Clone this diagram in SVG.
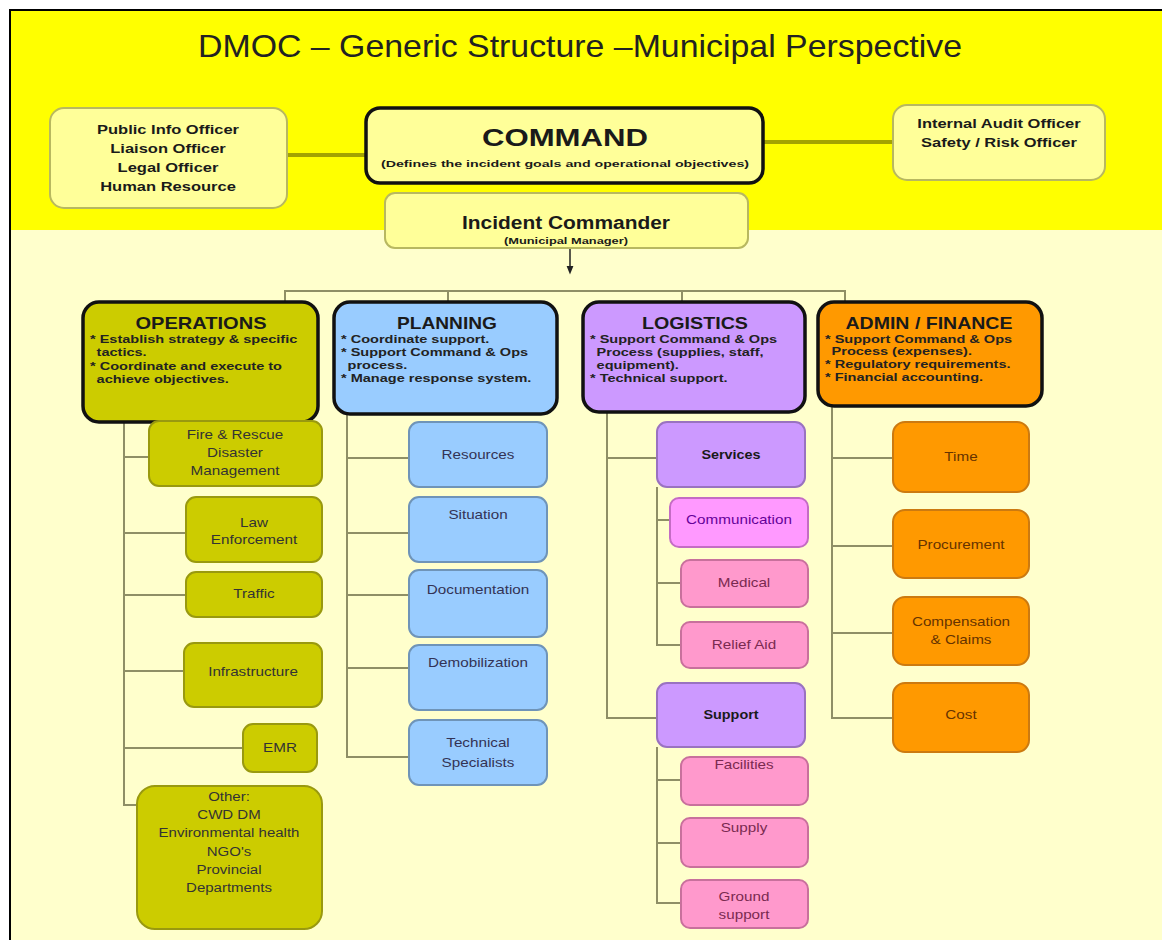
<svg xmlns="http://www.w3.org/2000/svg" width="1162" height="940" viewBox="0 0 1162 940">
  <style>
    .t { font-family: "Liberation Sans", Arial, sans-serif; text-anchor: middle; }
    .head { font-weight: bold; fill: #1a1a1a; }
    .bul { font-family: "Liberation Sans", Arial, sans-serif; font-weight: bold; font-size: 11px; fill: #222; }
    .cl { fill: none; stroke: #8f8f66; stroke-width: 2; }
    .top { fill: none; stroke: #a3a300; stroke-width: 4; }
    .main { stroke: #111; stroke-width: 3.5; }
    .ops { fill: #cccc00; }
    .opsc { fill: #cccc00; stroke: #99990f; stroke-width: 2; }
    .pln { fill: #99ccff; }
    .plnc { fill: #99ccff; stroke: #6f94b8; stroke-width: 2; }
    .log { fill: #cc99ff; }
    .logc { fill: #cc99ff; stroke: #9a72c0; stroke-width: 2; }
    .com { fill: #ff99ff; stroke: #c46cc4; stroke-width: 2; }
    .pnk { fill: #ff99cc; stroke: #c8709c; stroke-width: 2; }
    .adm { fill: #ff9900; }
    .admc { fill: #ff9900; stroke: #cc7a10; stroke-width: 2; }
    .lt { fill: #ffff99; stroke: #b8b860; stroke-width: 2; }
    .ct { font-size: 12px; }
  </style>
  <defs>
    <marker id="arrow" viewBox="0 0 10 10" refX="5" refY="5" markerWidth="6" markerHeight="6" orient="auto">
      <path d="M0,1 L10,5 L0,9 Z" fill="#222"/>
    </marker>
  </defs>

  <!-- page frame and backgrounds -->
  <rect x="0" y="0" width="1162" height="940" fill="#ffffff"/>
  <rect x="10" y="10" width="1152" height="930" fill="#ffffcc"/>
  <rect x="10" y="10" width="1152" height="220" fill="#ffff00"/>
  <path d="M10,940 L10,10 L1162,10" fill="none" stroke="#000" stroke-width="2"/>

  <text id="title" class="t" x="580" y="57" font-family="'Open Sans', 'Liberation Sans', sans-serif" font-size="32" fill="#222" textLength="764" lengthAdjust="spacingAndGlyphs">DMOC – Generic Structure –Municipal Perspective</text>

  <!-- connectors -->
  <g id="connectors">
    <line class="top" x1="287" y1="155" x2="366" y2="155"/>
    <line class="top" x1="763" y1="142" x2="893" y2="142"/>
    <line x1="570" y1="249" x2="570" y2="270" stroke="#222" stroke-width="1.5" marker-end="url(#arrow)"/>
    <polyline class="cl" points="285,302 285,291 845,291 845,302"/>
    <line class="cl" x1="448" y1="291" x2="448" y2="302"/>
    <line class="cl" x1="682" y1="291" x2="682" y2="302"/>
    <!-- operations branches -->
    <polyline class="cl" points="124,422 124,805 137,805"/>
    <line class="cl" x1="124" y1="457" x2="149" y2="457"/>
    <line class="cl" x1="124" y1="533" x2="186" y2="533"/>
    <line class="cl" x1="124" y1="595" x2="186" y2="595"/>
    <line class="cl" x1="124" y1="671" x2="184" y2="671"/>
    <line class="cl" x1="124" y1="748" x2="243" y2="748"/>
    <!-- planning branches -->
    <polyline class="cl" points="347,414 347,757 409,757"/>
    <line class="cl" x1="347" y1="458" x2="409" y2="458"/>
    <line class="cl" x1="347" y1="533" x2="409" y2="533"/>
    <line class="cl" x1="347" y1="595" x2="409" y2="595"/>
    <line class="cl" x1="347" y1="668" x2="409" y2="668"/>
    <!-- logistics branches -->
    <polyline class="cl" points="607,412 607,718 657,718"/>
    <line class="cl" x1="607" y1="458" x2="657" y2="458"/>
    <polyline class="cl" points="657,487 657,645 681,645"/>
    <line class="cl" x1="657" y1="520" x2="670" y2="520"/>
    <line class="cl" x1="657" y1="583" x2="681" y2="583"/>
    <polyline class="cl" points="657,747 657,903 681,903"/>
    <line class="cl" x1="657" y1="780" x2="681" y2="780"/>
    <line class="cl" x1="657" y1="843" x2="681" y2="843"/>
    <!-- admin / finance branches -->
    <polyline class="cl" points="832,406 832,718 893,718"/>
    <line class="cl" x1="832" y1="458" x2="893" y2="458"/>
    <line class="cl" x1="832" y1="546" x2="893" y2="546"/>
    <line class="cl" x1="832" y1="633" x2="893" y2="633"/>
  </g>

  <!-- command level -->
  <g id="officers-left">
    <rect class="lt" x="50" y="108" width="237" height="100" rx="14"/>
    <g class="t head" font-size="13" transform="translate(168,0) scale(1.27,1)">
      <text x="0" y="134">Public Info Officer</text>
      <text x="0" y="153">Liaison Officer</text>
      <text x="0" y="172">Legal Officer</text>
      <text x="0" y="191">Human Resource</text>
    </g>
  </g>
  <g id="command">
    <rect x="366" y="108" width="397" height="75" rx="14" fill="#ffff99" stroke="#111" stroke-width="3.5"/>
    <text class="t head" x="565" y="146" font-size="23" textLength="166" lengthAdjust="spacingAndGlyphs">COMMAND</text>
    <text class="t head" x="565" y="167" font-size="9" textLength="368" lengthAdjust="spacingAndGlyphs">(Defines the incident goals and operational objectives)</text>
  </g>
  <g id="officers-right">
    <rect class="lt" x="893" y="105" width="212" height="75" rx="14"/>
    <g class="t head" font-size="13" transform="translate(999,0) scale(1.27,1)">
      <text x="0" y="128">Internal Audit Officer</text>
      <text x="0" y="147">Safety / Risk Officer</text>
    </g>
  </g>
  <g id="incident-commander">
    <rect class="lt" x="385" y="193" width="363" height="55" rx="10"/>
    <text class="t head" x="566" y="229" font-size="18" textLength="208" lengthAdjust="spacingAndGlyphs">Incident Commander</text>
    <text class="t head" x="566" y="244" font-size="9" textLength="124" lengthAdjust="spacingAndGlyphs">(Municipal Manager)</text>
  </g>

  <!-- sections -->
  <g id="operations">
    <rect class="ops main" x="83" y="302" width="235" height="120" rx="16"/>
    <text class="t head" x="201" y="329" font-size="17" textLength="131" lengthAdjust="spacingAndGlyphs">OPERATIONS</text>
    <g transform="translate(90,0) scale(1.32,1)">
      <text class="bul" x="0" y="343">* Establish strategy &amp; specific</text>
      <text class="bul" x="5" y="356">tactics.</text>
      <text class="bul" x="0" y="370">* Coordinate and execute to</text>
      <text class="bul" x="5" y="383">achieve objectives.</text>
    </g>
  </g>
  <g id="planning">
    <rect class="pln main" x="334" y="302" width="223" height="112" rx="16"/>
    <text class="t head" x="447" y="329" font-size="17" textLength="100" lengthAdjust="spacingAndGlyphs">PLANNING</text>
    <g transform="translate(341,0) scale(1.32,1)">
      <text class="bul" x="0" y="343">* Coordinate support.</text>
      <text class="bul" x="0" y="356">* Support Command &amp; Ops</text>
      <text class="bul" x="5" y="369">process.</text>
      <text class="bul" x="0" y="382">* Manage response system.</text>
    </g>
  </g>
  <g id="logistics">
    <rect class="log main" x="583" y="302" width="222" height="110" rx="16"/>
    <text class="t head" x="695" y="329" font-size="17" fill="#1a1a4a" textLength="106" lengthAdjust="spacingAndGlyphs">LOGISTICS</text>
    <g transform="translate(590,0) scale(1.32,1)">
      <text class="bul" x="0" y="343">* Support Command &amp; Ops</text>
      <text class="bul" x="5" y="356">Process (supplies, staff,</text>
      <text class="bul" x="5" y="369">equipment).</text>
      <text class="bul" x="0" y="382">* Technical support.</text>
    </g>
  </g>
  <g id="admin-finance">
    <rect class="adm main" x="818" y="302" width="224" height="104" rx="16"/>
    <text class="t head" x="929" y="329" font-size="17" textLength="167" lengthAdjust="spacingAndGlyphs">ADMIN / FINANCE</text>
    <g transform="translate(825,0) scale(1.32,1)">
      <text class="bul" x="0" y="343">* Support Command &amp; Ops</text>
      <text class="bul" x="5" y="355">Process (expenses).</text>
      <text class="bul" x="0" y="368">* Regulatory requirements.</text>
      <text class="bul" x="0" y="381">* Financial accounting.</text>
    </g>
  </g>

  <!-- operations units -->
  <g id="fire-rescue">
    <rect class="opsc" x="149" y="421" width="173" height="65" rx="10"/>
    <g class="t ct" fill="#333" transform="translate(235,0) scale(1.27,1)">
      <text x="0" y="439">Fire &amp; Rescue</text>
      <text x="0" y="457">Disaster</text>
      <text x="0" y="475">Management</text>
    </g>
  </g>
  <g id="law-enforcement">
    <rect class="opsc" x="186" y="497" width="136" height="65" rx="10"/>
    <g class="t ct" fill="#333" transform="translate(254,0) scale(1.27,1)">
      <text x="0" y="527">Law</text>
      <text x="0" y="544">Enforcement</text>
    </g>
  </g>
  <g id="traffic">
    <rect class="opsc" x="186" y="572" width="136" height="45" rx="10"/>
    <text class="t ct" fill="#333" transform="translate(254,598) scale(1.27,1)">Traffic</text>
  </g>
  <g id="infrastructure">
    <rect class="opsc" x="184" y="643" width="138" height="64" rx="10"/>
    <text class="t ct" fill="#333" transform="translate(253,676) scale(1.27,1)">Infrastructure</text>
  </g>
  <g id="emr">
    <rect class="opsc" x="243" y="724" width="74" height="48" rx="10"/>
    <text class="t ct" fill="#333" transform="translate(280,752) scale(1.27,1)">EMR</text>
  </g>
  <g id="other">
    <rect class="opsc" x="137" y="786" width="185" height="143" rx="18"/>
    <g class="t ct" fill="#333" transform="translate(229,0) scale(1.25,1)">
      <text x="0" y="801">Other:</text>
      <text x="0" y="819">CWD DM</text>
      <text x="0" y="837">Environmental health</text>
      <text x="0" y="856">NGO's</text>
      <text x="0" y="874">Provincial</text>
      <text x="0" y="892">Departments</text>
    </g>
  </g>

  <!-- planning units -->
  <g id="resources">
    <rect class="plnc" x="409" y="422" width="138" height="65" rx="10"/>
    <text class="t ct" fill="#333355" transform="translate(478,459) scale(1.27,1)">Resources</text>
  </g>
  <g id="situation">
    <rect class="plnc" x="409" y="497" width="138" height="65" rx="10"/>
    <text class="t ct" fill="#333355" transform="translate(478,519) scale(1.27,1)">Situation</text>
  </g>
  <g id="documentation">
    <rect class="plnc" x="409" y="570" width="138" height="67" rx="10"/>
    <text class="t ct" fill="#333355" transform="translate(478,594) scale(1.27,1)">Documentation</text>
  </g>
  <g id="demobilization">
    <rect class="plnc" x="409" y="645" width="138" height="65" rx="10"/>
    <text class="t ct" fill="#333355" transform="translate(478,667) scale(1.27,1)">Demobilization</text>
  </g>
  <g id="technical-specialists">
    <rect class="plnc" x="409" y="720" width="138" height="65" rx="10"/>
    <g class="t ct" fill="#333355" transform="translate(478,0) scale(1.27,1)">
      <text x="0" y="747">Technical</text>
      <text x="0" y="767">Specialists</text>
    </g>
  </g>

  <!-- logistics units -->
  <g id="services">
    <rect class="logc" x="657" y="422" width="148" height="65" rx="10"/>
    <text class="t ct head" fill="#2a0a55" transform="translate(731,459) scale(1.2,1)">Services</text>
  </g>
  <g id="communication">
    <rect class="com" x="670" y="498" width="138" height="49" rx="9"/>
    <text class="t ct" fill="#660099" transform="translate(739,524) scale(1.27,1)">Communication</text>
  </g>
  <g id="medical">
    <rect class="pnk" x="681" y="560" width="127" height="47" rx="9"/>
    <text class="t ct" fill="#7a2a50" transform="translate(744,587) scale(1.27,1)">Medical</text>
  </g>
  <g id="relief-aid">
    <rect class="pnk" x="681" y="622" width="127" height="46" rx="9"/>
    <text class="t ct" fill="#7a2a50" transform="translate(744,649) scale(1.27,1)">Relief Aid</text>
  </g>
  <g id="support">
    <rect class="logc" x="657" y="683" width="148" height="64" rx="10"/>
    <text class="t ct head" fill="#2a0a55" transform="translate(731,719) scale(1.2,1)">Support</text>
  </g>
  <g id="facilities">
    <rect class="pnk" x="681" y="757" width="127" height="48" rx="9"/>
    <text class="t ct" fill="#7a2a50" transform="translate(744,769) scale(1.27,1)">Facilities</text>
  </g>
  <g id="supply">
    <rect class="pnk" x="681" y="818" width="127" height="49" rx="9"/>
    <text class="t ct" fill="#7a2a50" transform="translate(744,832) scale(1.27,1)">Supply</text>
  </g>
  <g id="ground-support">
    <rect class="pnk" x="681" y="880" width="127" height="48" rx="9"/>
    <g class="t ct" fill="#7a2a50" transform="translate(744,0) scale(1.27,1)">
      <text x="0" y="901">Ground</text>
      <text x="0" y="919">support</text>
    </g>
  </g>

  <!-- admin / finance units -->
  <g id="time">
    <rect class="admc" x="893" y="422" width="136" height="70" rx="12"/>
    <text class="t ct" fill="#663300" transform="translate(961,461) scale(1.27,1)">Time</text>
  </g>
  <g id="procurement">
    <rect class="admc" x="893" y="510" width="136" height="68" rx="12"/>
    <text class="t ct" fill="#663300" transform="translate(961,549) scale(1.27,1)">Procurement</text>
  </g>
  <g id="compensation-claims">
    <rect class="admc" x="893" y="597" width="136" height="68" rx="12"/>
    <g class="t ct" fill="#663300" transform="translate(961,0) scale(1.27,1)">
      <text x="0" y="626">Compensation</text>
      <text x="0" y="644">&amp; Claims</text>
    </g>
  </g>
  <g id="cost">
    <rect class="admc" x="893" y="683" width="136" height="69" rx="12"/>
    <text class="t ct" fill="#663300" transform="translate(961,719) scale(1.27,1)">Cost</text>
  </g>
</svg>
